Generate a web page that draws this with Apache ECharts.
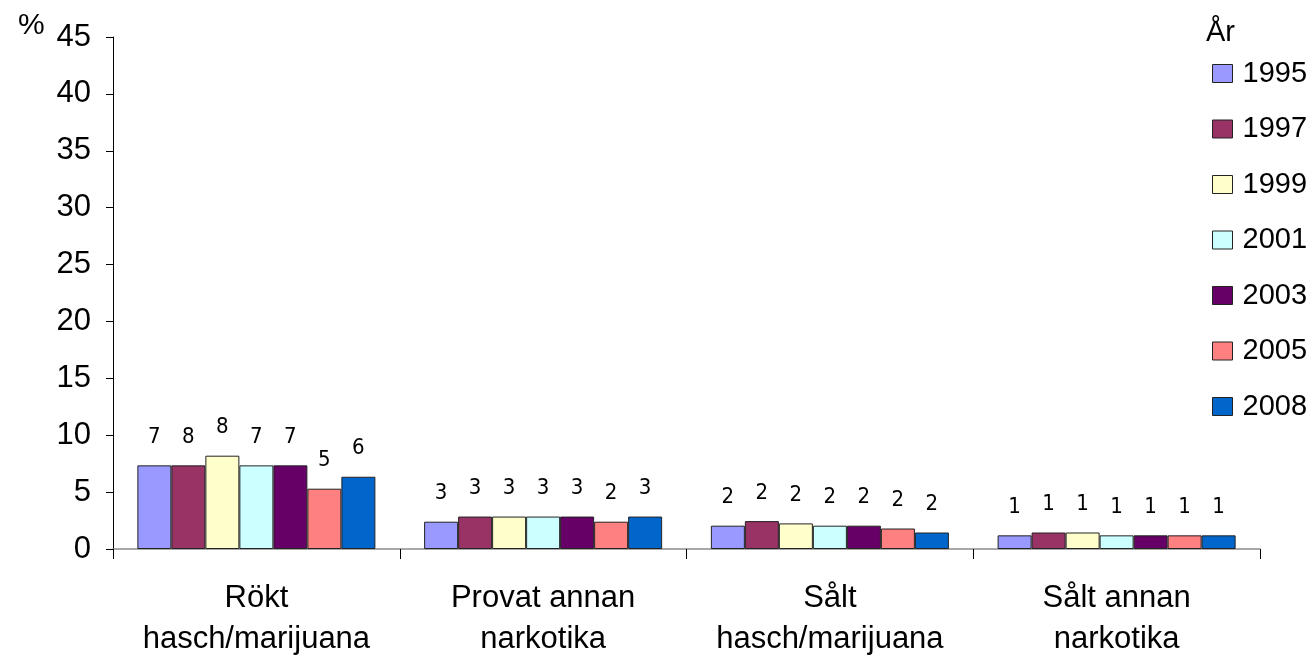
<!DOCTYPE html>
<html>
<head>
<meta charset="utf-8">
<script src="https://cdn.jsdelivr.net/npm/echarts@6/dist/echarts.min.js"></script>
<style>html,body{margin:0;padding:0;background:#fff}#c{width:1313px;height:660px}</style>
</head>
<body>
<div id="c"></div>
<script>
const categories = ['Rökt\nhasch/marijuana', 'Provat annan\nnarkotika', 'Sålt\nhasch/marijuana', 'Sålt annan\nnarkotika'];
const years = ['1995', '1997', '1999', '2001', '2003', '2005', '2008'];
const colors = ['#9999FF', '#993366', '#FFFFCC', '#CCFFFF', '#660066', '#FF8080', '#0066CC'];
const v1995 = [7.35, 2.4, 2.05, 1.2];
const v1997 = [7.35, 2.85, 2.45, 1.45];
const v1999 = [8.2, 2.85, 2.25, 1.45];
const v2001 = [7.35, 2.85, 2.05, 1.2];
const v2003 = [7.35, 2.85, 2.05, 1.2];
const v2005 = [5.3, 2.4, 1.8, 1.2];
const v2008 = [6.35, 2.85, 1.45, 1.2];
const l1995 = ['7', '3', '2', '1'];
const l1997 = ['8', '3', '2', '1'];
const l1999 = ['8', '3', '2', '1'];
const l2001 = ['7', '3', '2', '1'];
const l2003 = ['7', '3', '2', '1'];
const l2005 = ['5', '2', '2', '1'];
const l2008 = ['6', '3', '2', '1'];
const yTicks = [0, 5, 10, 15, 20, 25, 30, 35, 40, 45];

const values = [v1995, v1997, v1999, v2001, v2003, v2005, v2008];
const labels = [l1995, l1997, l1999, l2001, l2003, l2005, l2008];

const chart = echarts.init(document.getElementById('c'));
const series = years.map((y, i) => ({
  name: y,
  type: 'bar',
  data: values[i],
  barGap: '0%',
  barCategoryGap: '17%',
  itemStyle: { color: colors[i], borderColor: '#222', borderWidth: 1 },
  label: {
    show: true,
    position: 'top',
    distance: 17,
    formatter: p => labels[i][p.dataIndex],
    fontFamily: '"Liberation Sans Narrow", "DejaVu Sans Condensed", sans-serif',
    fontSize: 22,
    color: '#000'
  }
}));

chart.setOption({
  animation: false,
  textStyle: { fontFamily: '"Liberation Sans", Arial, sans-serif' },
  title: {
    text: '%',
    left: 13,
    top: 6,
    textStyle: { fontSize: 30, fontWeight: 'normal', color: '#000', fontFamily: '"Liberation Sans", Arial, sans-serif' }
  },
  graphic: [{
    type: 'text',
    left: 1206,
    top: 18,
    style: { text: 'År', fontSize: 29, fill: '#000', fontFamily: '"Liberation Sans", Arial, sans-serif' }
  }],
  legend: {
    orient: 'vertical',
    left: 1207,
    top: 54,
    itemWidth: 20,
    itemHeight: 18,
    itemGap: 26.5,
    icon: 'rect',
    data: years,
    itemStyle: { borderColor: '#222', borderWidth: 1 },
    textStyle: { fontSize: 29, lineHeight: 28, color: '#000', padding: [0, 0, 0, 5], fontFamily: '"Liberation Sans", Arial, sans-serif' }
  },
  grid: { left: 113, right: 53, top: 37, bottom: 111, containLabel: false },
  xAxis: {
    type: 'category',
    data: categories,
    axisLine: { lineStyle: { color: '#8c8c8c', width: 1.5 } },
    axisTick: { show: true, length: 10, lineStyle: { color: '#000' } },
    axisLabel: { fontSize: 31, lineHeight: 41, color: '#000', margin: 29, interval: 0 }
  },
  yAxis: {
    type: 'value',
    min: 0,
    max: 45,
    interval: 5,
    splitLine: { show: false },
    axisLine: { show: true, lineStyle: { color: '#000' } },
    axisTick: { show: true, length: 7, lineStyle: { color: '#000' } },
    axisLabel: { fontSize: 31, color: '#000', margin: 22, formatter: v => yTicks.includes(v) ? String(v) : '' }
  },
  series: series
});
</script>
</body>
</html>
